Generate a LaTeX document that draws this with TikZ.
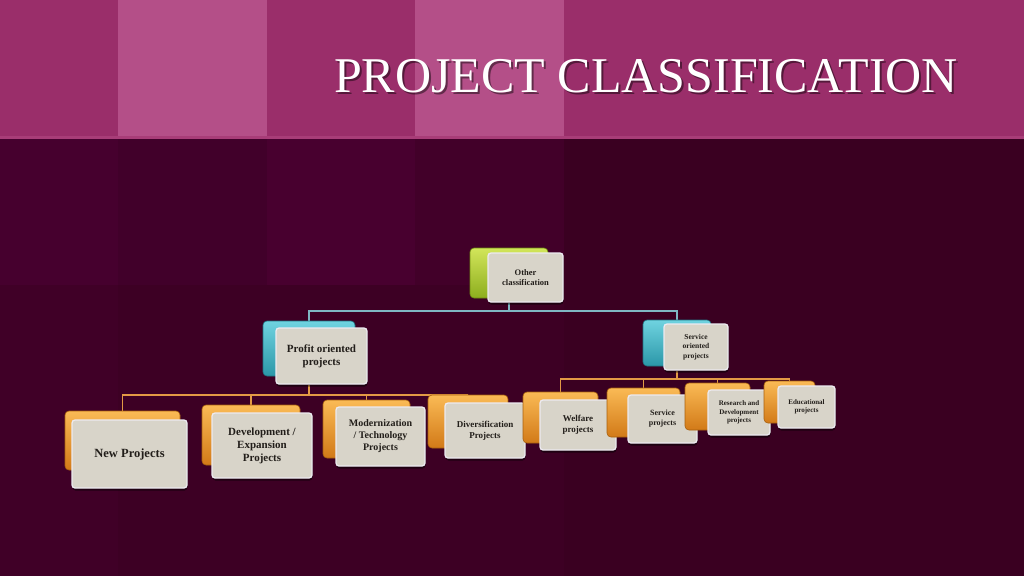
\documentclass[tikz,border=0pt]{standalone}
\usepackage{fontspec}
\setmainfont{Liberation Serif}
\usetikzlibrary{shadows}
\definecolor{bandA}{HTML}{9A2E6A}
\definecolor{bandB}{HTML}{B44F88}
\definecolor{bandLine}{HTML}{A83D78}
\definecolor{darkA}{HTML}{3D0024}
\definecolor{darkU1}{HTML}{46002E}
\definecolor{darkU2}{HTML}{41002A}
\definecolor{darkU3}{HTML}{48002F}
\definecolor{darkU4}{HTML}{420029}
\definecolor{darkL}{HTML}{400027}
\definecolor{darkR}{HTML}{3A0021}
\definecolor{orngL}{HTML}{FABA55}
\definecolor{orngD}{HTML}{D27A18}
\definecolor{orngE}{HTML}{A8600E}
\definecolor{blueL}{HTML}{6FD3E0}
\definecolor{blueD}{HTML}{2B97A8}
\definecolor{blueE}{HTML}{1E7482}
\definecolor{grnL}{HTML}{D2E55A}
\definecolor{grnD}{HTML}{8DAE1E}
\definecolor{grnE}{HTML}{6E8A12}
\definecolor{cardF}{HTML}{D8D4C9}
\definecolor{cardE}{HTML}{ECEAF0}
\definecolor{txt}{HTML}{221E1A}
\definecolor{tealLine}{HTML}{7FB7C3}
\definecolor{orngLine}{HTML}{E39A45}
\pgfdeclarelayer{backdrop}
\pgfdeclarelayer{lines}
\pgfsetlayers{backdrop,lines,main}
\newcommand\tf[2]{\fontsize{#1}{#2}\selectfont\bfseries}
\begin{document}
\begin{tikzpicture}[x=1pt,y=-1pt,
  blk/.style={rounded corners=4pt, line width=0.6pt, inner sep=0pt},
  oblk/.style={blk, draw=orngE, top color=orngL, bottom color=orngD},
  bblk/.style={blk, draw=blueE, top color=blueL, bottom color=blueD},
  gblk/.style={blk, draw=grnE, top color=grnL, bottom color=grnD},
  card/.style={rounded corners=3pt, fill=cardF, draw=cardE, line width=1.3pt,
    inner sep=1pt, align=center, text=txt,
    drop shadow={shadow xshift=0.5pt, shadow yshift=-2.5pt, fill=black, opacity=0.5}},
  tline/.style={draw=tealLine, line width=1.3pt},
  oline/.style={draw=orngLine, line width=1.3pt}]
\useasboundingbox (0,0) rectangle (1024,576);

\begin{pgfonlayer}{backdrop}
  % dark lower area
  \fill[darkA] (0,0) rectangle (1024,576);
  \fill[darkU1] (0,137) rectangle (118,285);
  \fill[darkU2] (118,137) rectangle (267,285);
  \fill[darkU3] (267,137) rectangle (415,285);
  \fill[darkU4] (415,137) rectangle (564,285);
  \fill[darkL] (0,285) rectangle (118,576);
  \fill[darkR] (564,137) rectangle (1024,576);
  % top band
  \fill[bandA] (0,0) rectangle (1024,137);
  \fill[bandB] (118,0) rectangle (267,137);
  \fill[bandB] (415,0) rectangle (564,137);
  \fill[bandLine] (0,135.5) rectangle (1024,138.5);
\end{pgfonlayer}

% title
\node[anchor=base, text=black, opacity=0.45, font=\fontsize{50}{50}\selectfont] (titleshadow) at (648,94) {PROJECT CLASSIFICATION};
\node[anchor=base, text=white, font=\fontsize{50}{50}\selectfont] (title) at (646,92) {PROJECT CLASSIFICATION};

% level 0
\node[gblk, minimum width=78, minimum height=50] (bother) at (509,273) {};
\node[card, minimum width=75, minimum height=49, font=\tf{8.5}{10}] (other) at (525.5,277.5) {Other\\classification};

% level 1
\node[bblk, minimum width=92, minimum height=55] (bprofit) at (309,348.5) {};
\node[card, minimum width=91, minimum height=56, font=\tf{11}{13}] (profit) at (321.5,356) {Profit oriented\\projects};
\node[bblk, minimum width=68, minimum height=46] (bservice) at (677,343) {};
\node[card, minimum width=64, minimum height=46, font=\tf{7.5}{9.5}] (service) at (696,347) {Service\\oriented\\projects};

% level 2 (profit)
\node[oblk, minimum width=115, minimum height=59] (bnew) at (122.5,440.5) {};
\node[card, minimum width=115, minimum height=68, font=\tf{12.5}{14}] (new) at (129.5,454) {New Projects};
\node[oblk, minimum width=98, minimum height=60] (bdev) at (251,435) {};
\node[card, minimum width=100, minimum height=65, font=\tf{11}{13}] (dev) at (262,445.5) {Development /\\Expansion\\Projects};
\node[oblk, minimum width=87, minimum height=58] (bmod) at (366.5,429) {};
\node[card, minimum width=89, minimum height=59, font=\tf{10}{12}] (mod) at (380.5,436.5) {Modernization\\/ Technology\\Projects};
\node[oblk, minimum width=80, minimum height=53] (bdiv) at (468,421.5) {};
\node[card, minimum width=80, minimum height=55, font=\tf{9}{11}] (div) at (485,430.5) {Diversification\\Projects};

% level 2 (service)
\node[oblk, minimum width=75, minimum height=51] (bwel) at (560.5,417.5) {};
\node[card, minimum width=76, minimum height=50, font=\tf{9}{11}] (wel) at (578,425) {Welfare\\projects};
\node[oblk, minimum width=73, minimum height=49] (bsrv) at (643.5,412.5) {};
\node[card, minimum width=69, minimum height=48, font=\tf{8}{10}] (srv) at (662.5,419) {Service\\projects};
\node[oblk, minimum width=65, minimum height=47] (brd) at (717.5,406.5) {};
\node[card, minimum width=62, minimum height=45, font=\tf{7}{8.5}] (rd) at (739,412.5) {Research and\\Development\\projects};
\node[oblk, minimum width=51, minimum height=42] (bedu) at (789.5,402) {};
\node[card, minimum width=57, minimum height=42, font=\tf{7}{8.5}] (edu) at (806.5,407) {Educational\\projects};

% connectors
\coordinate (lv1) at (0,311);
\coordinate (lv2) at (0,395);
\coordinate (lv3) at (0,379);
\begin{pgfonlayer}{lines}
  \draw[tline] (bother.center |- other.south) -- (bother.center |- lv1) -| (bprofit.north);
  \draw[tline] (bother.center |- lv1) -| (bservice.north);
  \draw[oline] (bprofit.center |- profit.south) -- (bprofit.center |- lv2) -| (bnew.north);
  \draw[oline] (bprofit.center |- lv2) -| (bdev.north);
  \draw[oline] (bprofit.center |- lv2) -| (bmod.north);
  \draw[oline] (bprofit.center |- lv2) -| (bdiv.north);
  \draw[oline] (bservice.center |- service.south) -- (bservice.center |- lv3) -| (bwel.north);
  \draw[oline] (bservice.center |- lv3) -| (bsrv.north);
  \draw[oline] (bservice.center |- lv3) -| (brd.north);
  \draw[oline] (bservice.center |- lv3) -| (bedu.north);
\end{pgfonlayer}
\end{tikzpicture}
\end{document}
